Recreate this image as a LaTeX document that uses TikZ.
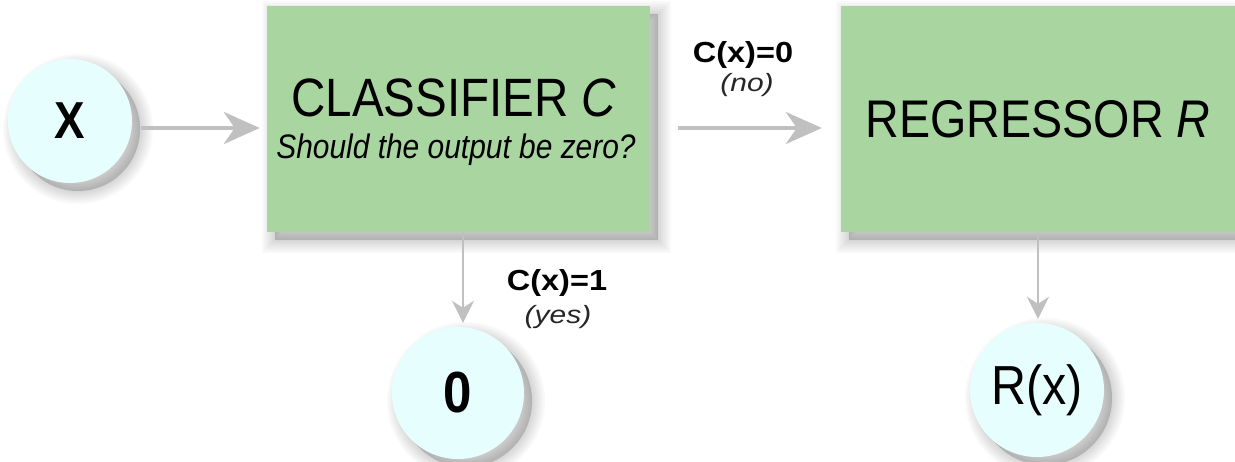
\documentclass[tikz,border=0pt]{standalone}
\usepackage{fontspec}
\setmainfont{Liberation Sans}
\newfontfamily\tallsans{Liberation Sans}[FakeStretch=0.88]
\newfontfamily\widesans{Liberation Sans}[FakeStretch=1.12]
\newfontfamily\widersans{Liberation Sans}[FakeStretch=1.2]
\usetikzlibrary{calc,arrows.meta}

\definecolor{boxgreen}{RGB}{168,213,160}
\definecolor{nodecyan}{RGB}{230,255,254}
\definecolor{linegray}{RGB}{192,192,192}

\tikzset{
  shadowlayer/.style={preaction={fill=black,draw=black,opacity=0.022,line width=#1,
      transform canvas={shift={(8pt,-8pt)}}}},
  softshadow/.style={shadowlayer=26pt,shadowlayer=22pt,shadowlayer=18pt,shadowlayer=14pt,
      shadowlayer=10pt,shadowlayer=6pt,shadowlayer=2pt},
  stagebox/.style={rectangle,fill=boxgreen,draw=none,inner sep=0pt,softshadow},
  valnode/.style={circle,fill=nodecyan,draw=none,inner sep=0pt,softshadow},
  harrow/.style={draw=linegray,line width=4pt,-{Stealth[length=36pt,width=32pt,inset=11pt]}},
  varrow/.style={draw=linegray,line width=2.6pt,-{Stealth[length=22pt,width=22pt,inset=7pt]}},
  condlabel/.style={font=\widesans\fontsize{29}{33}\selectfont\bfseries,inner sep=0pt},
  answer/.style={font=\widersans\fontsize{25}{29}\selectfont\itshape,inner sep=0pt,text=black!85},
}

\begin{document}
\begin{tikzpicture}[x=1pt,y=-1pt]
  \useasboundingbox[fill=white] (0,0) rectangle (1235,462);

  % input, stages and outputs
  \node[valnode,minimum size=124pt,font=\tallsans\fontsize{52}{58}\selectfont\bfseries] (xn) at (70,121) {X};
  \node[stagebox,minimum width=383pt,minimum height=226pt] (cls) at (458.5,119) {};
  \node[inner sep=0pt,font=\tallsans\fontsize{54}{60}\selectfont] (clstitle) at (454,98) {CLASSIFIER \textit{C}};
  \node[inner sep=0pt,font=\tallsans\fontsize{34}{38}\selectfont\itshape] (clssub) at (456,150) {Should the output be zero?};
  \node[stagebox,minimum width=394pt,minimum height=226pt,font=\tallsans\fontsize{53}{58}\selectfont] (reg) at (1038,119) {REGRESSOR \textit{R}};
  \node[valnode,minimum size=132pt,font=\tallsans\fontsize{58}{64}\selectfont\bfseries] (zero) at (458,393) {0};
  \node[valnode,minimum size=134pt,font=\tallsans\fontsize{55}{60}\selectfont] (rx) at (1037,390) {R(x)};

  % connectors
  \draw[harrow] ($(xn.east)+(9,7)$) -- ($(xn.east -| cls.west)+(-7,7)$);
  \draw[harrow] ($(cls.east)+(28,9)$) -- ($(cls.east -| reg.west)+(-19,9)$);
  \draw[varrow] ($(cls.south)+(4.5,0)$) -- ($(zero.north)+(5,-4)$);
  \draw[varrow] (reg.south) -- ($(reg.south |- rx.north)+(0,-4)$);

  % branch conditions
  \node[condlabel] (c0) at (743,55) {C(x)=0};
  \node[answer] (no) at (747,85) {(no)};
  \node[condlabel] (c1) at (557,283) {C(x)=1};
  \node[answer] (yes) at (558,317) {(yes)};
\end{tikzpicture}
\end{document}
